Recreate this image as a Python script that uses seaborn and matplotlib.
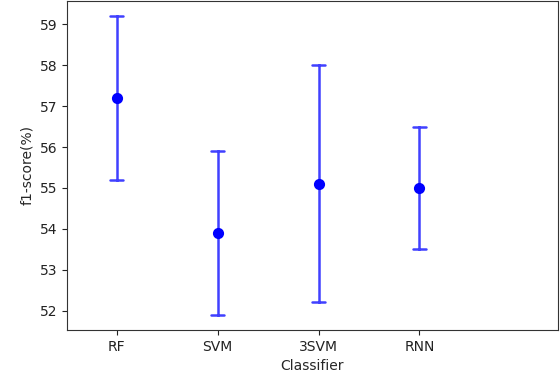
import matplotlib
matplotlib.use("Agg")
import matplotlib.pyplot as plt
import pandas as pd
import seaborn as sns

# f1-score per classifier: centre value and lower / upper whisker ends
classifiers = ["RF", "SVM", "3SVM", "RNN"]
f1_center = [57.2, 53.9, 55.1, 55.0]
f1_lower = [55.2, 51.9, 52.2, 53.5]
f1_upper = [59.2, 55.9, 58.0, 56.5]

# long table: three rows per classifier; median = centre, min/max = whiskers
rows = []
for name, lo, mid, hi in zip(classifiers, f1_lower, f1_center, f1_upper):
    for v in (lo, mid, hi):
        rows.append({"Classifier": name, "f1": v})
df = pd.DataFrame(rows)

sns.set_style("ticks")
plt.rcParams["font.family"] = ["DejaVu Sans"]

fig = plt.figure(figsize=(5.6, 3.8), dpi=100)
ax = fig.add_axes([0.12, 0.132, 0.876, 0.865])

sns.pointplot(
    data=df,
    x="Classifier",
    y="f1",
    order=classifiers,
    estimator="median",
    errorbar=("pi", 100),
    linestyle="none",
    color="blue",
    markersize=6,
    capsize=0.13,
    err_kws={"linewidth": 1.8, "alpha": 0.75},
    ax=ax,
)

ax.set_xlim(-0.49, 4.37)
ax.set_ylim(51.53, 59.57)
ax.set_xlabel("Classifier", fontsize=10)
ax.set_ylabel("f1-score(%)", fontsize=10)
ax.tick_params(labelsize=10, colors="#222222")
for side in ["top", "right", "left", "bottom"]:
    ax.spines[side].set_visible(True)
    ax.spines[side].set_color("#333333")

fig.savefig("out.png", dpi=100)
